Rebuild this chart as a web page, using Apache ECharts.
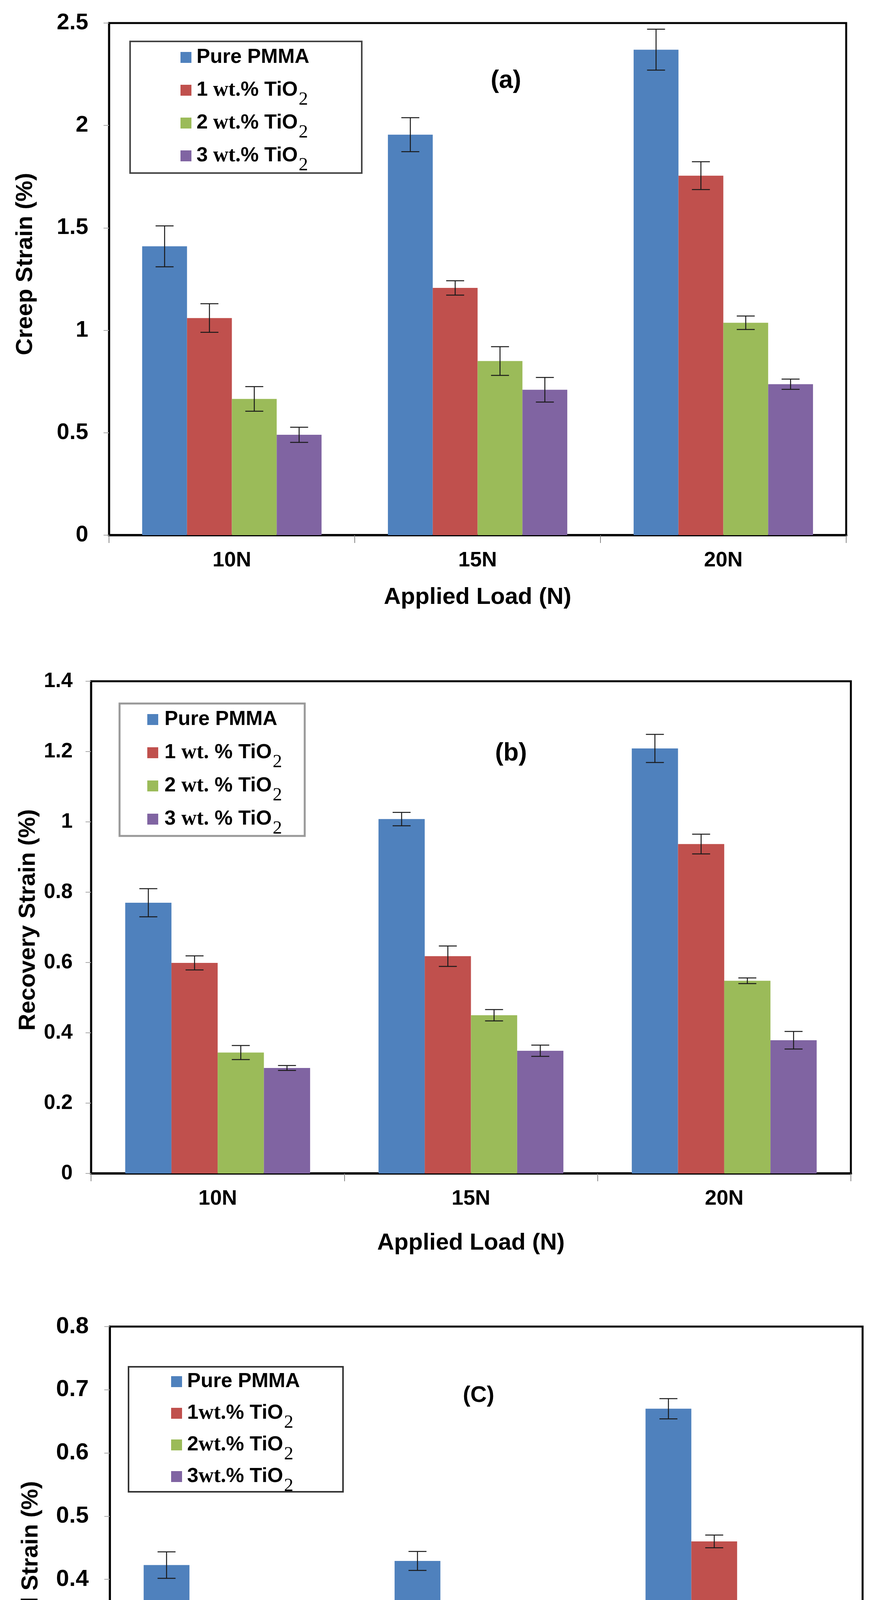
<!DOCTYPE html>
<html><head><meta charset="utf-8">
<script src="https://cdn.jsdelivr.net/npm/echarts@6/dist/echarts.min.js"></script>
<style>html,body{margin:0;padding:0;background:#fff}#c{width:2250px;height:4899px}</style>
</head><body><div id="c"></div>
<script>
// ---------- data ----------
const categories = ['10N', '15N', '20N'];
const seriesNames = ['Pure PMMA', '1 wt.% TiO2', '2 wt.% TiO2', '3 wt.% TiO2'];
const colors = ['#4F81BD', '#C0504D', '#9BBB59', '#8064A2'];

// (a) creep strain (%)
const creepPure = [1.41, 1.955, 2.37];
const creep1 = [1.06, 1.207, 1.755];
const creep2 = [0.665, 0.85, 1.037];
const creep3 = [0.49, 0.71, 0.737];
const creepPureErr = [0.10, 0.083, 0.10];
const creep1Err = [0.07, 0.035, 0.068];
const creep2Err = [0.06, 0.07, 0.033];
const creep3Err = [0.037, 0.06, 0.025];
const creepTicks = ['0', '0.5', '1', '1.5', '2', '2.5'];

// (b) recovery strain (%)
const recPure = [0.77, 1.008, 1.209];
const rec1 = [0.599, 0.618, 0.937];
const rec2 = [0.344, 0.45, 0.548];
const rec3 = [0.30, 0.349, 0.379];
const recPureErr = [0.04, 0.019, 0.04];
const rec1Err = [0.02, 0.029, 0.028];
const rec2Err = [0.02, 0.016, 0.008];
const rec3Err = [0.007, 0.016, 0.025];
const recTicks = ['0', '0.2', '0.4', '0.6', '0.8', '1', '1.2', '1.4'];

// (c) residual strain (%)
const resPure = [0.4225, 0.429, 0.670];
const res1 = [0.214, 0.249, 0.46];
const res2 = [0.199, 0.219, 0.309];
const res3 = [0.12, 0.199, 0.249];
const resPureErr = [0.021, 0.015, 0.016];
const res1Err = [0.011, 0.006, 0.01];
const res2Err = [0.004, 0.014, 0.01];
const res3Err = [0.004, 0.008, 0.01];
const resTicks = ['0', '0.1', '0.2', '0.3', '0.4', '0.5', '0.6', '0.7', '0.8'];

const legendTextsA = ['{p|Pure PMMA}{b| }', '{n|1}{s| wt.}{n|% TiO}{b|\u2082}', '{n|2}{s| wt.}{n|% TiO}{b|\u2082}', '{n|3}{s| wt.}{n|% TiO}{b|\u2082}'];
const legendTextsB = ['{p|Pure PMMA}{b| }', '{n|1 }{s|wt.}{n| % TiO}{b|\u2082}', '{n|2 }{s|wt.}{n| % TiO}{b|\u2082}', '{n|3 }{s|wt.}{n| % TiO}{b|\u2082}'];
const legendTextsC = ['{p|Pure PMMA}{b| }', '{n|1}{s|wt.}{n|% TiO}{b|\u2082}', '{n|2}{s|wt.}{n|% TiO}{b|\u2082}', '{n|3}{s|wt.}{n|% TiO}{b|\u2082}'];

const xTitle = 'Applied Load (N)';
const yTitles = ['Creep Strain (%)', 'Recovery Strain (%)', 'Residual Strain (%)'];
const panelLabels = ['(a)', '(b)', '(C)'];

// ---------- layout ----------
const SANS = '"Liberation Sans", Arial, sans-serif';
const SERIF = '"Liberation Serif", "DejaVu Serif", "Times New Roman", serif';
const CAT_GAP = 0.27;
const LH = 80;

const panels = [
  { grid: {left: 279, top: 59, width: 1887, height: 1311},
    values: [creepPure, creep1, creep2, creep3], errs: [creepPureErr, creep1Err, creep2Err, creep3Err],
    ticks: creepTicks, yFont: 58, yMargin: 53, xFont: 54, nameGap: 129,
    legend: {left: 462, top: 107, gap: 4, pad: 8}, legendTexts: legendTextsA,
    box: {x: 333, y: 106, width: 593, height: 337, stroke: '#444', lw: 4},
    yTitle: [65, 676], label: [1295, 207, 64] },
  { grid: {left: 233, top: 1744, width: 1945, height: 1260},
    values: [recPure, rec1, rec2, rec3], errs: [recPureErr, rec1Err, rec2Err, rec3Err],
    ticks: recTicks, yFont: 53, yMargin: 47, xFont: 54, nameGap: 148,
    legend: {left: 377, top: 1802, gap: 5, pad: 11}, legendTexts: legendTextsB,
    box: {x: 306, y: 1801, width: 474, height: 339, stroke: '#999', lw: 5},
    yTitle: [72, 2355], label: [1308, 1929, 64] },
  { grid: {left: 281, top: 3396, width: 1927, height: 1294},
    values: [resPure, res1, res2, res3], errs: [resPureErr, res1Err, res2Err, res3Err],
    ticks: resTicks, yFont: 60, yMargin: 54, xFont: 58, nameGap: 122,
    legend: {left: 438, top: 3497, gap: 1, pad: 8}, legendTexts: legendTextsC,
    box: {x: 329, y: 3499, width: 549, height: 320, stroke: '#333', lw: 4},
    yTitle: [79, 4065], label: [1225, 3573, 58] }
];

const rich = {
  p: {fontFamily: SANS, fontWeight: 'bold', fontSize: 52, lineHeight: LH, color: '#000'},
  n: {fontFamily: SANS, fontWeight: 'bold', fontSize: 52, lineHeight: LH, color: '#000'},
  s: {fontFamily: SERIF, fontWeight: 'bold', fontSize: 54, lineHeight: LH, color: '#000'},
  b: {fontFamily: SERIF, fontWeight: 'normal', fontSize: 80, lineHeight: LH, color: '#000'}
};

function errRender(params, api) {
  const ci = api.value(0), v = api.value(1), e = api.value(2), si = api.value(3);
  const band = api.size([1, 0])[0];
  const bw = band * (1 - CAT_GAP) / 4;
  const cx = api.coord([ci, v])[0] + (si - 1.5) * bw;
  const yt = api.coord([ci, v + e])[1];
  const yb = api.coord([ci, v - e])[1];
  const hw = 23;
  const st = {stroke: '#1a1a1a', lineWidth: 2.5};
  return {type: 'group', children: [
    {type: 'line', shape: {x1: cx, y1: yt, x2: cx, y2: yb}, style: st},
    {type: 'line', shape: {x1: cx - hw, y1: yt, x2: cx + hw, y2: yt}, style: st},
    {type: 'line', shape: {x1: cx - hw, y1: yb, x2: cx + hw, y2: yb}, style: st}
  ]};
}

const grids = [], xAxes = [], yAxes = [], series = [], legends = [], graphics = [];
panels.forEach((p, pi) => {
  grids.push(Object.assign({show: true, borderColor: '#000', borderWidth: 5, backgroundColor: 'transparent', containLabel: false}, p.grid));
  xAxes.push({
    type: 'category', gridIndex: pi, data: categories,
    axisLine: {show: true, lineStyle: {color: '#000', width: 6}},
    axisTick: {show: true, alignWithLabel: false, length: 20, lineStyle: {color: '#888', width: 2}},
    axisLabel: {color: '#000', fontFamily: SANS, fontWeight: 'bold', fontSize: p.xFont, margin: 38},
    name: xTitle, nameLocation: 'middle', nameGap: p.nameGap,
    nameTextStyle: {color: '#000', fontFamily: SANS, fontWeight: 'bold', fontSize: 60},
    splitLine: {show: false}
  });
  const tickVals = p.ticks.map(Number);
  yAxes.push({
    type: 'value', gridIndex: pi, min: tickVals[0], max: tickVals[tickVals.length - 1],
    interval: tickVals[1] - tickVals[0],
    axisLine: {show: true, lineStyle: {color: '#000', width: 5}},
    axisTick: {show: true, length: 14, lineStyle: {color: '#aaa', width: 2}},
    axisLabel: {color: '#000', fontFamily: SANS, fontWeight: 'bold', fontSize: p.yFont, margin: p.yMargin,
      formatter: (v, i) => p.ticks[i] !== undefined ? p.ticks[i] : String(v)},
    splitLine: {show: false}
  });
  const errData = [];
  p.values.forEach((vals, si) => {
    series.push({
      type: 'bar', name: seriesNames[si], xAxisIndex: pi, yAxisIndex: pi, data: vals,
      itemStyle: {color: colors[si]}, barGap: '0%', barCategoryGap: (CAT_GAP * 100) + '%',
      emphasis: {disabled: true}
    });
    vals.forEach((v, ci) => errData.push([ci, v, p.errs[si][ci], si]));
  });
  series.push({type: 'custom', xAxisIndex: pi, yAxisIndex: pi, data: errData, renderItem: errRender,
    encode: {x: 0, y: 1}, z: 5, silent: true});
  legends.push({
    orient: 'vertical', left: p.legend.left, top: p.legend.top, itemGap: p.legend.gap,
    itemWidth: 28, itemHeight: 28, padding: 0, icon: 'rect', selectedMode: false,
    data: seriesNames, formatter: name => p.legendTexts[seriesNames.indexOf(name)],
    textStyle: {padding: [0, 0, 0, p.legend.pad], rich: rich}
  });
  graphics.push({type: 'rect', shape: {x: p.box.x, y: p.box.y, width: p.box.width, height: p.box.height},
    style: {fill: 'none', stroke: p.box.stroke, lineWidth: p.box.lw}, z: 10});
  graphics.push({type: 'text', x: p.yTitle[0], y: p.yTitle[1], rotation: Math.PI / 2,
    style: {text: yTitles[pi], font: 'bold 60px ' + SANS, fill: '#000', align: 'center', verticalAlign: 'middle',
      textAlign: 'center', textVerticalAlign: 'middle'}, z: 10});
  graphics.push({type: 'text', x: p.label[0], y: p.label[1],
    style: {text: panelLabels[pi], font: 'bold ' + p.label[2] + 'px ' + SANS, fill: '#000', align: 'center', verticalAlign: 'middle',
      textAlign: 'center', textVerticalAlign: 'middle'}, z: 10});
});

const chart = echarts.init(document.getElementById('c'), null, {renderer: 'canvas'});
chart.setOption({
  animation: false,
  backgroundColor: '#fff',
  grid: grids, xAxis: xAxes, yAxis: yAxes, series: series, legend: legends,
  graphic: graphics
});
</script>
</body></html>
